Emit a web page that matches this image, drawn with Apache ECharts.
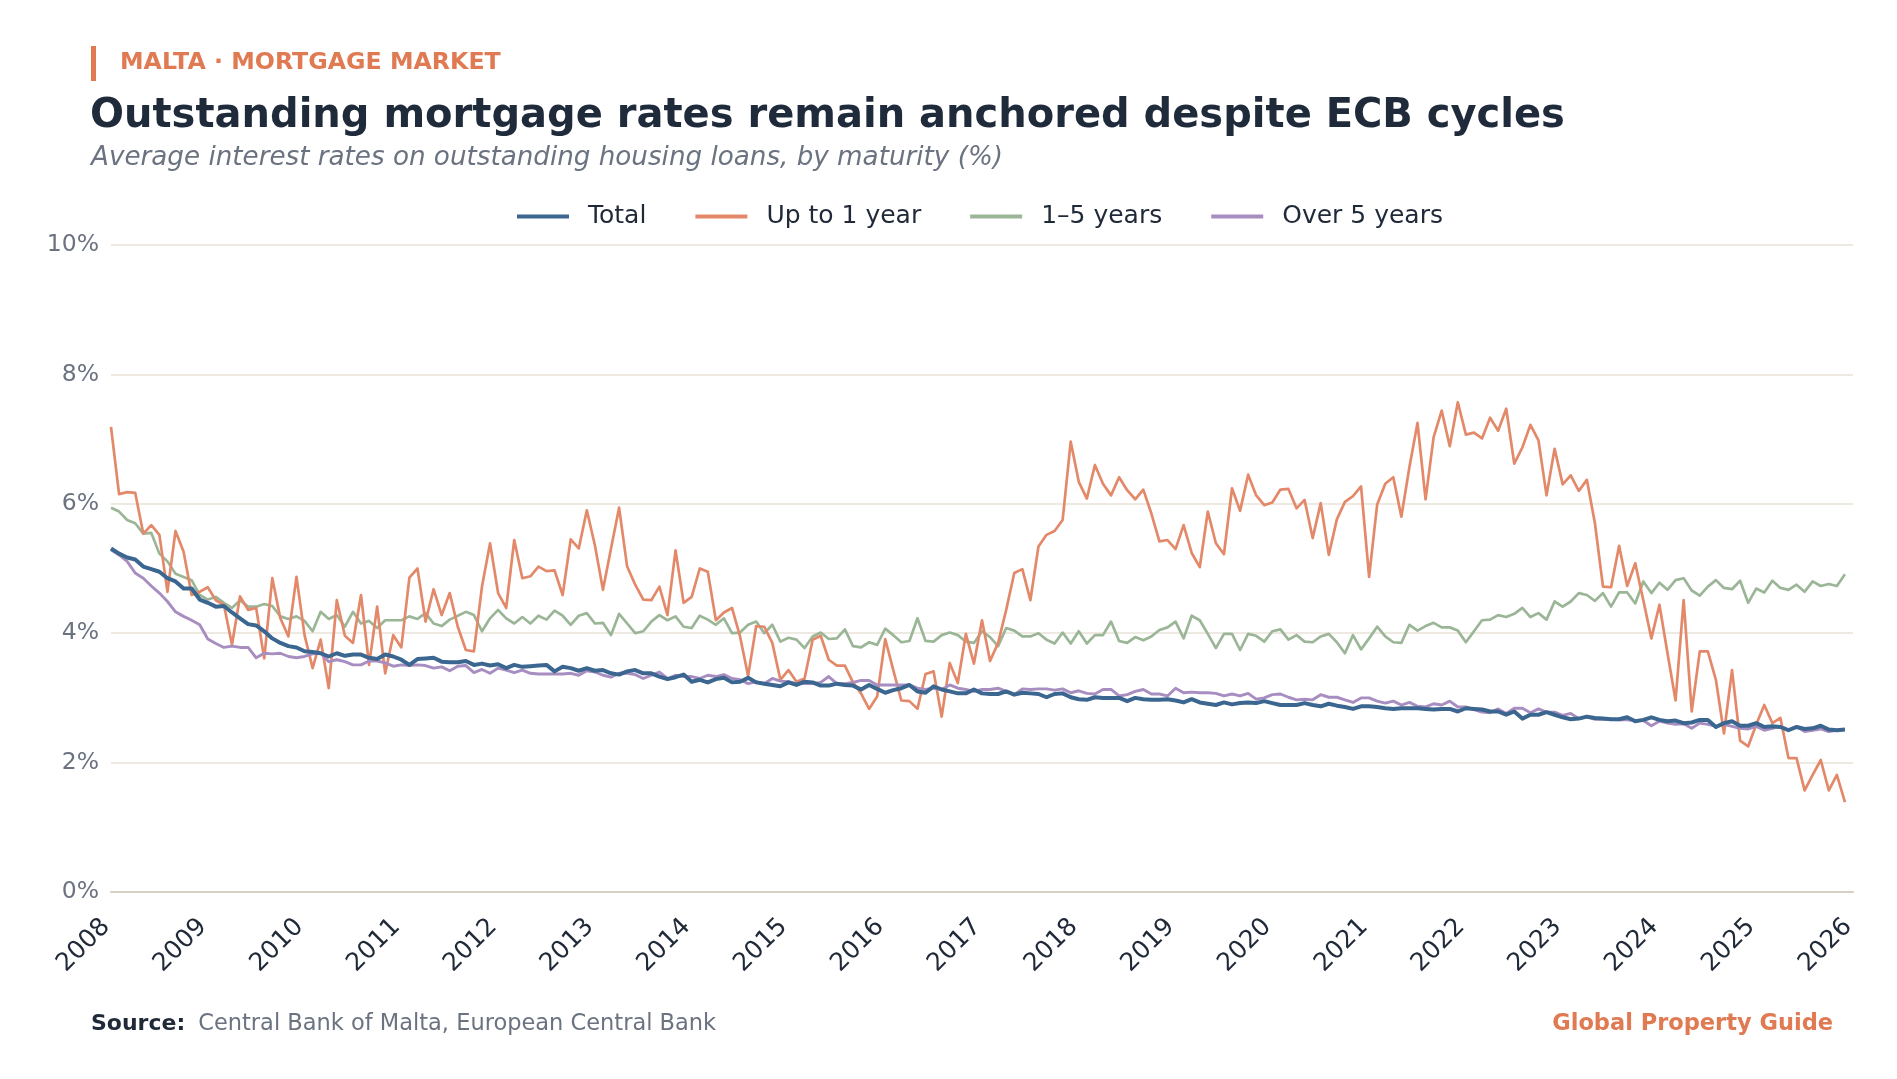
<!DOCTYPE html>
<html>
<head>
<meta charset="utf-8">
<script src="https://cdn.jsdelivr.net/npm/echarts@6/dist/echarts.min.js"></script>
<style>
html,body{margin:0;padding:0;background:#fff;}
#c{width:1897px;height:1079px;}
</style>
</head>
<body>
<div id="c"></div>
<script>
// Monthly, Jan 2008 - Dec 2025
const startYear = 2008;
const endYear = 2026;
const yTicks = [0, 2, 4, 6, 8, 10];

const total = [
5.31,5.23,5.17,5.14,5.03,4.99,4.95,4.85,4.80,4.69,4.69,4.52,
4.47,4.41,4.42,4.32,4.23,4.14,4.12,4.03,3.92,3.85,3.80,3.78,
3.72,3.71,3.69,3.64,3.69,3.65,3.67,3.67,3.62,3.60,3.67,3.64,
3.59,3.51,3.60,3.61,3.62,3.56,3.55,3.55,3.57,3.51,3.53,3.50,
3.52,3.46,3.51,3.48,3.49,3.50,3.51,3.41,3.48,3.46,3.42,3.46,
3.42,3.43,3.38,3.36,3.41,3.43,3.38,3.38,3.33,3.29,3.32,3.36,
3.25,3.28,3.24,3.29,3.31,3.24,3.25,3.31,3.24,3.22,3.20,3.18,
3.24,3.20,3.25,3.24,3.19,3.19,3.22,3.20,3.19,3.13,3.20,3.14,
3.08,3.12,3.15,3.20,3.10,3.08,3.18,3.13,3.10,3.07,3.07,3.13,
3.07,3.06,3.06,3.10,3.05,3.08,3.07,3.06,3.01,3.06,3.07,3.01,
2.98,2.97,3.01,3.00,3.00,3.00,2.95,3.00,2.98,2.97,2.97,2.98,
2.96,2.93,2.98,2.93,2.91,2.89,2.93,2.90,2.92,2.93,2.92,2.95,
2.92,2.89,2.89,2.89,2.92,2.89,2.87,2.91,2.88,2.86,2.83,2.87,
2.87,2.86,2.84,2.83,2.84,2.84,2.84,2.83,2.82,2.83,2.83,2.79,
2.84,2.83,2.82,2.79,2.79,2.74,2.79,2.68,2.74,2.74,2.78,2.74,
2.70,2.67,2.68,2.71,2.69,2.68,2.67,2.67,2.70,2.64,2.66,2.70,
2.66,2.64,2.65,2.61,2.62,2.66,2.66,2.55,2.61,2.64,2.57,2.57,
2.61,2.55,2.56,2.55,2.50,2.55,2.52,2.53,2.57,2.51,2.50,2.51
];

const upTo1 = [
7.19,6.15,6.18,6.17,5.54,5.67,5.52,4.64,5.58,5.26,4.59,4.64,
4.71,4.51,4.44,3.82,4.57,4.36,4.39,3.61,4.85,4.23,3.95,4.87,
3.97,3.46,3.90,3.15,4.51,3.96,3.85,4.59,3.51,4.41,3.38,3.97,
3.78,4.86,5.00,4.18,4.68,4.28,4.62,4.10,3.74,3.72,4.72,5.39,
4.62,4.39,5.44,4.85,4.88,5.03,4.96,4.97,4.59,5.45,5.31,5.90,
5.36,4.67,5.31,5.94,5.03,4.75,4.52,4.51,4.72,4.28,5.28,4.47,
4.56,5.00,4.95,4.20,4.32,4.39,3.95,3.34,4.11,4.10,3.85,3.28,
3.43,3.25,3.30,3.90,3.96,3.59,3.50,3.50,3.24,3.07,2.83,3.02,
3.91,3.43,2.96,2.95,2.83,3.37,3.41,2.71,3.54,3.23,3.99,3.53,
4.20,3.57,3.85,4.36,4.93,4.99,4.51,5.34,5.52,5.58,5.75,6.96,
6.34,6.08,6.60,6.31,6.13,6.41,6.21,6.07,6.22,5.85,5.42,5.44,
5.30,5.67,5.24,5.02,5.88,5.39,5.22,6.24,5.89,6.45,6.13,5.98,
6.02,6.22,6.23,5.93,6.06,5.47,6.01,5.21,5.76,6.03,6.12,6.27,
4.87,5.99,6.31,6.41,5.80,6.57,7.25,6.07,7.03,7.44,6.89,7.57,
7.07,7.10,7.01,7.33,7.13,7.47,6.62,6.87,7.22,6.98,6.13,6.85,
6.30,6.44,6.20,6.37,5.70,4.72,4.71,5.35,4.73,5.08,4.51,3.92,
4.44,3.69,2.96,4.51,2.79,3.72,3.72,3.28,2.45,3.43,2.34,2.25,
2.59,2.89,2.61,2.69,2.07,2.07,1.57,1.81,2.04,1.57,1.81,1.39
];

const oneTo5 = [
5.94,5.88,5.75,5.70,5.54,5.55,5.23,5.11,4.92,4.87,4.82,4.59,
4.52,4.56,4.47,4.39,4.51,4.41,4.41,4.45,4.42,4.26,4.22,4.26,
4.19,4.03,4.33,4.22,4.28,4.10,4.33,4.15,4.19,4.08,4.20,4.20,
4.20,4.26,4.22,4.31,4.15,4.11,4.21,4.27,4.33,4.28,4.03,4.23,
4.36,4.23,4.15,4.25,4.15,4.27,4.21,4.35,4.27,4.13,4.27,4.31,
4.15,4.16,3.97,4.30,4.15,4.00,4.03,4.18,4.28,4.20,4.26,4.10,
4.08,4.27,4.21,4.13,4.23,4.00,4.01,4.13,4.18,4.00,4.13,3.87,
3.93,3.90,3.77,3.95,4.01,3.91,3.92,4.06,3.80,3.78,3.86,3.82,
4.07,3.97,3.86,3.88,4.23,3.88,3.87,3.97,4.01,3.97,3.87,3.85,
4.03,3.94,3.80,4.08,4.04,3.95,3.95,4.00,3.90,3.84,4.01,3.84,
4.03,3.84,3.97,3.97,4.18,3.88,3.85,3.94,3.89,3.95,4.05,4.09,
4.18,3.92,4.27,4.20,3.99,3.77,3.99,3.99,3.74,3.99,3.96,3.87,
4.03,4.06,3.90,3.97,3.87,3.86,3.95,3.99,3.86,3.69,3.97,3.75,
3.92,4.10,3.95,3.86,3.85,4.13,4.04,4.11,4.16,4.09,4.09,4.04,
3.86,4.03,4.20,4.21,4.28,4.25,4.30,4.39,4.25,4.31,4.21,4.49,
4.41,4.49,4.62,4.59,4.50,4.62,4.41,4.63,4.63,4.46,4.80,4.62,
4.78,4.67,4.82,4.85,4.66,4.58,4.72,4.82,4.70,4.68,4.81,4.47,
4.69,4.63,4.81,4.70,4.67,4.75,4.64,4.80,4.73,4.76,4.73,4.91
];

const over5 = [
5.29,5.21,5.11,4.93,4.85,4.73,4.62,4.49,4.33,4.26,4.20,4.13,
3.91,3.84,3.78,3.80,3.78,3.78,3.62,3.69,3.68,3.69,3.64,3.62,
3.64,3.68,3.69,3.56,3.59,3.56,3.51,3.51,3.57,3.57,3.54,3.49,
3.51,3.50,3.51,3.50,3.46,3.48,3.42,3.49,3.50,3.39,3.44,3.38,
3.46,3.43,3.39,3.43,3.38,3.37,3.37,3.37,3.37,3.38,3.35,3.42,
3.40,3.35,3.32,3.38,3.38,3.36,3.30,3.35,3.40,3.30,3.35,3.33,
3.33,3.30,3.35,3.33,3.36,3.30,3.28,3.22,3.25,3.22,3.30,3.26,
3.25,3.22,3.22,3.22,3.24,3.33,3.22,3.22,3.24,3.27,3.27,3.20,
3.20,3.20,3.20,3.20,3.15,3.13,3.15,3.13,3.20,3.15,3.13,3.10,
3.13,3.13,3.15,3.10,3.05,3.14,3.13,3.14,3.14,3.12,3.14,3.08,
3.11,3.07,3.06,3.13,3.13,3.03,3.05,3.10,3.13,3.06,3.06,3.03,
3.15,3.08,3.09,3.08,3.08,3.07,3.03,3.06,3.03,3.07,2.98,3.00,
3.05,3.06,3.01,2.97,2.98,2.97,3.05,3.01,3.01,2.97,2.93,3.00,
3.00,2.95,2.92,2.95,2.89,2.93,2.87,2.86,2.91,2.89,2.95,2.86,
2.86,2.82,2.78,2.77,2.83,2.76,2.84,2.84,2.77,2.83,2.78,2.78,
2.73,2.76,2.68,2.71,2.67,2.67,2.67,2.66,2.66,2.65,2.65,2.57,
2.64,2.61,2.59,2.60,2.53,2.61,2.59,2.56,2.59,2.56,2.53,2.52,
2.56,2.50,2.53,2.56,2.51,2.56,2.48,2.50,2.52,2.48,2.50,2.51
];

// month categories Jan 2008 .. Jan 2026 (last one is the axis end)
const months = [];
for (let y = startYear; y <= endYear; y++) {
  for (let m = 1; m <= 12; m++) {
    if (y === endYear && m > 1) break;
    months.push(y + '-' + String(m).padStart(2, '0'));
  }
}

const FONT = 'DejaVu Sans';
const C_TOTAL = '#3A6690';
const C_UP1 = '#E3896A';
const C_15 = '#9BB697';
const C_O5 = '#A88DC0';

const chart = echarts.init(document.getElementById('c'), null, {renderer: 'canvas'});

function line(name, data, color, width, z) {
  return {
    name: name, type: 'line', data: data, showSymbol: false, symbol: 'none',
    lineStyle: {color: color, width: width, join: 'round'},
    itemStyle: {color: color}, z: z, animation: false
  };
}

chart.setOption({
  backgroundColor: '#ffffff',
  animation: false,
  textStyle: {fontFamily: FONT},
  grid: {left: 111, right: 44, top: 245, bottom: 187, containLabel: false},
  legend: {
    top: 199, left: 512,
    icon: 'rect', itemWidth: 52, itemHeight: 4, itemGap: 49,
    textStyle: {fontFamily: FONT, fontSize: 25, color: '#1F2937', padding: [0, 0, 0, 14]},
    data: ['Total', 'Up to 1 year', '1–5 years', 'Over 5 years']
  },
  xAxis: {
    type: 'category', data: months, boundaryGap: false,
    axisLine: {show: true, lineStyle: {color: '#D6D0C4', width: 2}},
    axisTick: {show: false},
    axisLabel: {
      interval: function (i) { return i % 12 === 0; },
      formatter: function (v) { return v.slice(0, 4); },
      rotate: 45, fontSize: 25, color: '#1F2937', fontFamily: FONT, margin: 26,
      padding: [0, 7, 0, 0]
    },
    splitLine: {show: false}
  },
  yAxis: {
    type: 'value', min: yTicks[0], max: yTicks[yTicks.length - 1], interval: 2,
    axisLine: {show: false}, axisTick: {show: false},
    axisLabel: {formatter: '{value}%', fontSize: 23.5, color: '#6B7280', fontFamily: FONT, margin: 12},
    splitLine: {lineStyle: {color: '#E8E3D9', width: 1.5}}
  },
  series: [
    line('1–5 years', oneTo5, C_15, 2.7, 2),
    line('Up to 1 year', upTo1, C_UP1, 2.7, 3),
    line('Over 5 years', over5, C_O5, 2.9, 4),
    line('Total', total, C_TOTAL, 4, 5)
  ],
  graphic: [
    {type: 'rect', left: 91, top: 46, shape: {width: 5, height: 35}, style: {fill: '#E07A52'}},
    {type: 'text', left: 120, top: 51, style: {text: 'MALTA · MORTGAGE MARKET', font: 'bold 23.7px "DejaVu Sans"', fill: '#E07A52'}},
    {type: 'text', left: 90, top: 97, style: {text: 'Outstanding mortgage rates remain anchored despite ECB cycles', font: 'bold 40px "DejaVu Sans"', fill: '#1F2A3A'}},
    {type: 'text', left: 91, top: 145, style: {text: 'Average interest rates on outstanding housing loans, by maturity (%)', font: 'italic 26.2px "DejaVu Sans"', fill: '#6B7280'}},
    {type: 'text', left: 91, top: 1013, style: {
      text: '{b|Source:}{g|Central Bank of Malta, European Central Bank}',
      rich: {
        b: {font: 'bold 22px "DejaVu Sans"', fill: '#1F2937'},
        g: {font: '22.5px "DejaVu Sans"', fill: '#6B7280', padding: [0, 0, 0, 13]}
      }
    }},
    {type: 'text', right: 64, top: 1013, style: {text: 'Global Property Guide', font: 'bold 22.5px "DejaVu Sans"', fill: '#E07A52'}}
  ]
});
</script>
</body>
</html>
